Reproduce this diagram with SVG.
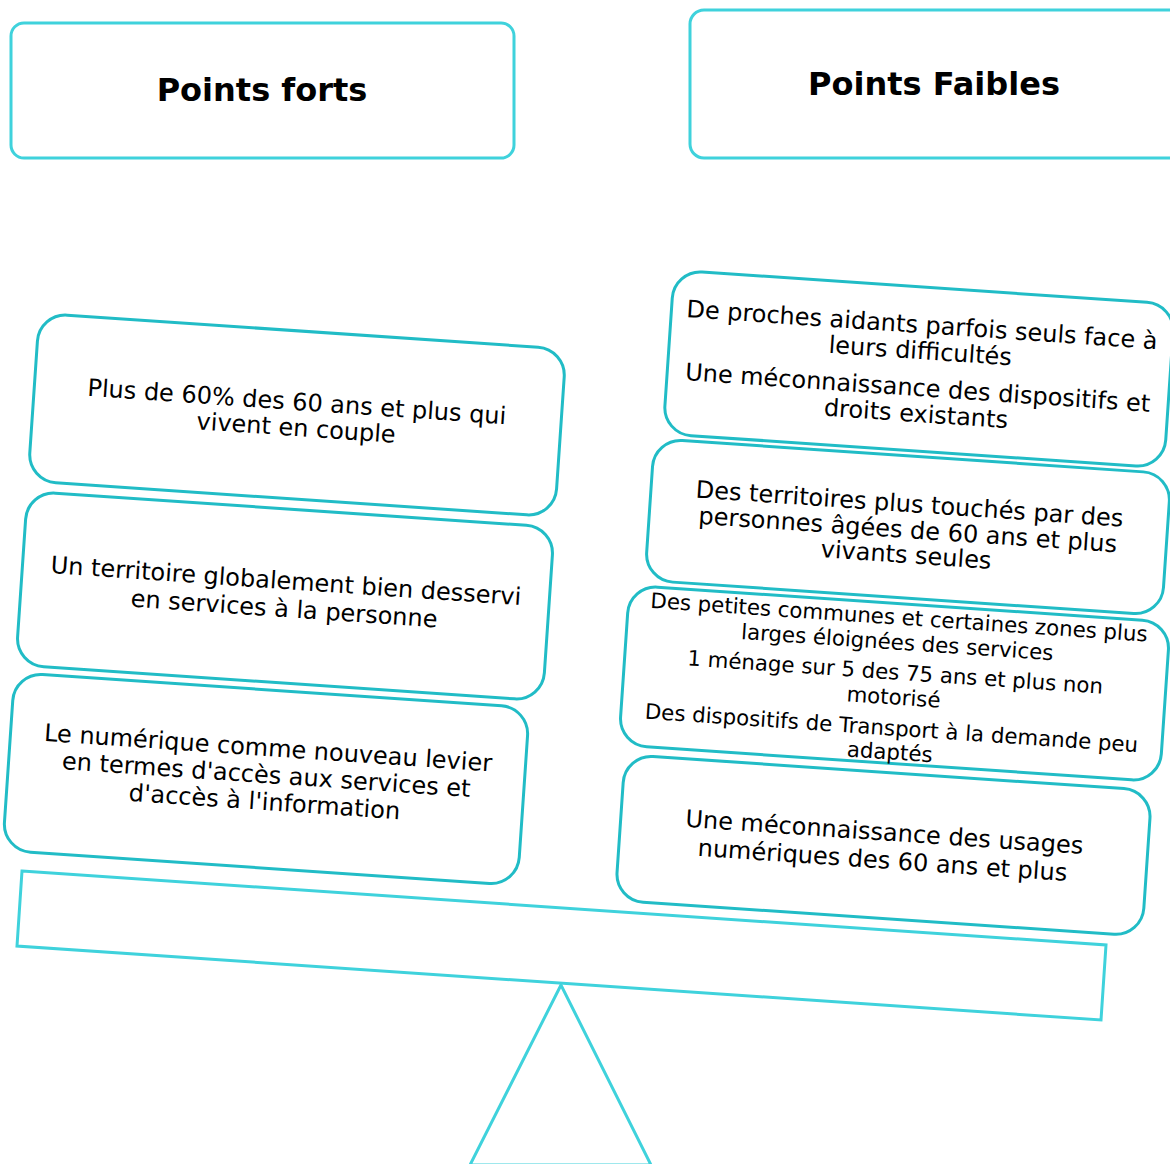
<svg xmlns="http://www.w3.org/2000/svg" width="1170" height="1164" viewBox="0 0 1170 1164">
<style>
.hdr{fill:#fff;stroke:#3fd2dc;stroke-width:3}
.box{fill:none;stroke:#21bcc6;stroke-width:3}
.ht{font-family:"DejaVu Sans",Verdana,sans-serif;font-weight:bold;font-size:32px;fill:#000;text-anchor:middle}
.t{font-family:"DejaVu Sans",Verdana,sans-serif;font-size:24px;fill:#000;text-anchor:middle}
.s{font-size:21.3px}
.scale{fill:none;stroke:#3fd2dc;stroke-width:3}
</style>
<rect width="1170" height="1164" fill="#fff"/>
<g id="scale">
<polygon class="scale" points="22,871 1106,945 1101,1020 17,946"/>
<polygon class="scale" points="561,985 470,1165 651,1165" stroke-width="2.5"/>
</g>
<g id="hdr-forts">
<rect class="hdr" x="11" y="23" width="503" height="135" rx="13"/>
<text class="ht" x="262" y="101">Points forts</text>
</g>
<g id="hdr-faibles">
<rect class="hdr" x="690" y="10" width="500" height="148" rx="14"/>
<text class="ht" x="934" y="95">Points Faibles</text>
</g>
<g id="L1" transform="translate(297,415) rotate(3.9)">
<rect class="box" x="-264" y="-84" width="528" height="168" rx="28"/>
<text class="t"><tspan x="-1" y="-5">Plus de 60% des 60 ans et plus qui</tspan><tspan x="0" y="21">vivent en couple</tspan></text>
</g>
<g id="L2" transform="translate(285,596) rotate(3.9)">
<rect class="box" x="-264" y="-87" width="528" height="174" rx="28"/>
<text class="t"><tspan x="0" y="-7">Un territoire globalement bien desservi</tspan><tspan x="0" y="21">en services à la personne</tspan></text>
</g>
<g id="L3" transform="translate(266,779) rotate(3.9)">
<rect class="box" x="-258" y="-89" width="516" height="178" rx="28"/>
<text class="t"><tspan x="0" y="-23">Le numérique comme nouveau levier</tspan><tspan x="0" y="4">en termes d'accès aux services et</tspan><tspan x="0" y="31">d'accès à l'information</tspan></text>
</g>
<g id="R1" transform="translate(919,369) rotate(3.9)">
<rect class="box" x="-251" y="-82" width="502" height="164" rx="28"/>
<text class="t"><tspan x="0" y="-36">De proches aidants parfois seuls face à</tspan><tspan x="0" y="-10">leurs difficultés</tspan><tspan x="0" y="27">Une méconnaissance des dispositifs et</tspan><tspan x="0" y="53">droits existants</tspan></text>
</g>
<g id="R2" transform="translate(908,527) rotate(3.9)">
<rect class="box" x="-259" y="-71" width="518" height="142" rx="28"/>
<text class="t"><tspan x="0" y="-15">Des territoires plus touchés par des</tspan><tspan x="0" y="11">personnes âgées de 60 ans et plus</tspan><tspan x="0" y="36">vivants seules</tspan></text>
</g>
<g id="R3" transform="translate(894.5,683.5) rotate(3.9)">
<rect class="box" x="-271" y="-80" width="542" height="160" rx="28"/>
<text class="t s"><tspan x="0" y="-59">Des petites communes et certaines zones plus</tspan><tspan x="0" y="-34">larges éloignées des services</tspan><tspan x="0" y="-4">1 ménage sur 5 des 75 ans et plus non</tspan><tspan x="0" y="21">motorisé</tspan><tspan x="0" y="52">Des dispositifs de Transport à la demande peu</tspan><tspan x="0" y="76">adaptés</tspan></text>
</g>
<g id="R4" transform="translate(883.5,845.4) rotate(3.9)">
<rect class="box" x="-264" y="-73" width="528" height="146" rx="28"/>
<text class="t"><tspan x="0" y="-5">Une méconnaissance des usages</tspan><tspan x="0" y="23">numériques des 60 ans et plus</tspan></text>
</g>
</svg>
